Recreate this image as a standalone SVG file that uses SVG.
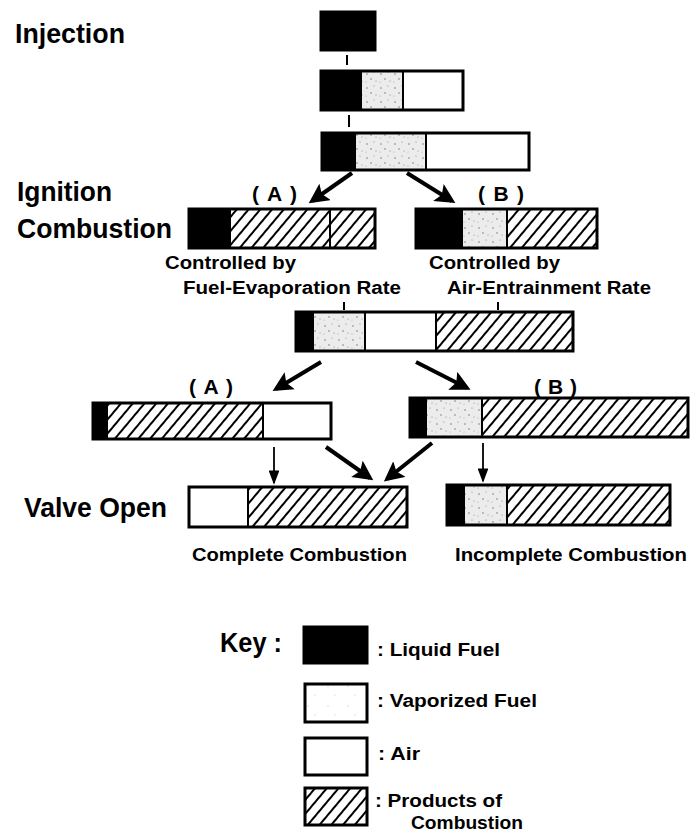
<svg xmlns="http://www.w3.org/2000/svg" width="691" height="834" viewBox="0 0 691 834">
<style>
text{font-family:"Liberation Sans",Arial,sans-serif;font-weight:bold;fill:#000}
.big{font-size:27px}
.lab{font-size:18px}
.par{font-size:21px}
.b{stroke:#000;stroke-width:3}
.liq{fill:#000}
.air{fill:#fff}
.vap{fill:url(#stip)}
.prod{fill:url(#hatch)}
.div{stroke:#000;stroke-width:2}
.thick{stroke:#000;stroke-width:4;fill:none}
.thin{stroke:#000;stroke-width:1.8;fill:none}
.tick{stroke:#000;stroke-width:2}
</style>
<defs>
<pattern id="hatch" patternUnits="userSpaceOnUse" width="9" height="9" patternTransform="rotate(40)">
<rect width="9" height="9" fill="#fff"/>
<line x1="1" y1="0" x2="1" y2="9" stroke="#000" stroke-width="2"/>
</pattern>
<pattern id="stip" patternUnits="userSpaceOnUse" width="14" height="14">
<rect width="14" height="14" fill="#ececec"/>
<circle cx="3" cy="4" r="0.7" fill="#666"/>
<circle cx="10" cy="2" r="0.6" fill="#888"/>
<circle cx="7" cy="9" r="0.7" fill="#666"/>
<circle cx="12" cy="11" r="0.6" fill="#888"/>
<circle cx="2" cy="12" r="0.5" fill="#999"/>
</pattern>
<pattern id="stipLight" patternUnits="userSpaceOnUse" width="20" height="20">
<rect width="20" height="20" fill="#fff"/>
<circle cx="8" cy="6" r="0.5" fill="#aaa"/>
<circle cx="15" cy="15" r="0.5" fill="#bbb"/>
</pattern>
<marker id="ahThick" markerWidth="5" markerHeight="5" refX="4" refY="2.5" orient="auto" markerUnits="strokeWidth">
<path d="M0,0 L5,2.5 L0,5 L1,2.5 Z" fill="#000"/>
</marker>
<marker id="ahThin" markerWidth="8" markerHeight="6" refX="7" refY="3" orient="auto" markerUnits="strokeWidth">
<path d="M0,0 L8,3 L0,6 Z" fill="#000"/>
</marker>
</defs>

<g id="labels">
<text class="big" x="15" y="43" textLength="110" lengthAdjust="spacingAndGlyphs">Injection</text>
<text class="big" x="17" y="201" textLength="95" lengthAdjust="spacingAndGlyphs">Ignition</text>
<text class="big" x="17" y="238" textLength="155" lengthAdjust="spacingAndGlyphs">Combustion</text>
<text class="big" x="24" y="517" textLength="143" lengthAdjust="spacingAndGlyphs">Valve Open</text>
</g>

<g id="connectors">
<line class="tick" x1="347" y1="55" x2="347" y2="65"/>
<line class="tick" x1="349" y1="115" x2="349" y2="127"/>
<line class="thick" x1="352" y1="173" x2="312" y2="201" marker-end="url(#ahThick)"/>
<line class="thick" x1="407" y1="173" x2="452" y2="201" marker-end="url(#ahThick)"/>
<line class="tick" x1="344" y1="302" x2="344" y2="310"/>
<line class="tick" x1="498" y1="302" x2="498" y2="310"/>
<line class="thick" x1="321" y1="362" x2="276" y2="389" marker-end="url(#ahThick)"/>
<line class="thick" x1="416" y1="362" x2="467" y2="388" marker-end="url(#ahThick)"/>
<line class="thin" x1="274" y1="447" x2="274" y2="483" marker-end="url(#ahThin)"/>
<line class="thick" x1="326" y1="447" x2="370" y2="478" marker-end="url(#ahThick)"/>
<line class="thick" x1="432" y1="443" x2="387" y2="479" marker-end="url(#ahThick)"/>
<line class="thin" x1="483" y1="443" x2="483" y2="481" marker-end="url(#ahThin)"/>
</g>

<g id="node-injection">
<rect class="liq b" x="321" y="12" width="54" height="38"/>
</g>

<g id="node-stage2">
<rect class="liq" x="321" y="71" width="41" height="39"/>
<rect class="vap" x="362" y="71" width="41" height="39"/>
<rect class="air" x="403" y="71" width="60" height="39"/>
<rect x="321" y="71" width="142" height="39" fill="none" class="b"/>
<line class="div" x1="403" y1="71" x2="403" y2="110"/>
</g>

<g id="node-stage3">
<rect class="liq" x="322" y="133" width="34" height="37"/>
<rect class="vap" x="356" y="133" width="70" height="37"/>
<rect class="air" x="426" y="133" width="103" height="37"/>
<rect x="322" y="133" width="207" height="37" fill="none" class="b"/>
<line class="div" x1="426" y1="133" x2="426" y2="170"/>
</g>

<g id="node-ignA">
<text class="par" x="252" y="201" textLength="45" lengthAdjust="spacing">( A )</text>
<rect class="liq" x="189" y="209" width="42" height="39"/>
<rect class="prod" x="231" y="209" width="144" height="39"/>
<rect x="189" y="209" width="186" height="39" fill="none" class="b"/>
<line class="div" x1="330" y1="209" x2="330" y2="248"/>
<text class="lab" x="165" y="269" textLength="131" lengthAdjust="spacingAndGlyphs">Controlled by</text>
<text class="lab" x="183" y="294" textLength="218" lengthAdjust="spacingAndGlyphs">Fuel-Evaporation Rate</text>
</g>

<g id="node-ignB">
<text class="par" x="478" y="201" textLength="46" lengthAdjust="spacing">( B )</text>
<rect class="liq" x="416" y="209" width="47" height="39"/>
<rect class="vap" x="463" y="209" width="44" height="39"/>
<rect class="prod" x="507" y="209" width="90" height="39"/>
<rect x="416" y="209" width="181" height="39" fill="none" class="b"/>
<line class="div" x1="507" y1="209" x2="507" y2="248"/>
<text class="lab" x="429" y="269" textLength="131" lengthAdjust="spacingAndGlyphs">Controlled by</text>
<text class="lab" x="447" y="294" textLength="204" lengthAdjust="spacingAndGlyphs">Air-Entrainment Rate</text>
</g>

<g id="node-mid">
<rect class="liq" x="296" y="312" width="18" height="39"/>
<rect class="vap" x="314" y="312" width="51" height="39"/>
<rect class="air" x="365" y="312" width="71" height="39"/>
<rect class="prod" x="436" y="312" width="137" height="39"/>
<rect x="296" y="312" width="277" height="39" fill="none" class="b"/>
<line class="div" x1="365" y1="312" x2="365" y2="351"/>
<line class="div" x1="436" y1="312" x2="436" y2="351"/>
</g>

<g id="node-A2">
<text class="par" x="189" y="394" textLength="44" lengthAdjust="spacing">( A )</text>
<rect class="liq" x="93" y="403" width="15" height="36"/>
<rect class="prod" x="108" y="403" width="155" height="36"/>
<rect class="air" x="263" y="403" width="68" height="36"/>
<rect x="93" y="403" width="238" height="36" fill="none" class="b"/>
<line class="div" x1="263" y1="403" x2="263" y2="439"/>
</g>

<g id="node-B2">
<text class="par" x="534" y="394" textLength="43" lengthAdjust="spacing">( B )</text>
<rect class="liq" x="410" y="398" width="17" height="39"/>
<rect class="vap" x="427" y="398" width="55" height="39"/>
<rect class="prod" x="482" y="398" width="206" height="39"/>
<rect x="410" y="398" width="278" height="39" fill="none" class="b"/>
<line class="div" x1="482" y1="398" x2="482" y2="437"/>
</g>

<g id="node-complete">
<rect class="air" x="189" y="487" width="59" height="40"/>
<rect class="prod" x="248" y="487" width="159" height="40"/>
<rect x="189" y="487" width="218" height="40" fill="none" class="b"/>
<line class="div" x1="248" y1="487" x2="248" y2="527"/>
<text class="lab" x="192" y="561" textLength="215" lengthAdjust="spacingAndGlyphs">Complete Combustion</text>
</g>

<g id="node-incomplete">
<rect class="liq" x="447" y="485" width="18" height="40"/>
<rect class="vap" x="465" y="485" width="42" height="40"/>
<rect class="prod" x="507" y="485" width="163" height="40"/>
<rect x="447" y="485" width="223" height="40" fill="none" class="b"/>
<line class="div" x1="507" y1="485" x2="507" y2="525"/>
<text class="lab" x="455" y="561" textLength="232" lengthAdjust="spacingAndGlyphs">Incomplete Combustion</text>
</g>

<g id="key">
<text class="big" x="220" y="652" textLength="62" lengthAdjust="spacingAndGlyphs">Key :</text>
<rect class="liq b" x="304" y="627" width="63" height="36"/>
<text class="lab" x="377" y="656" textLength="123" lengthAdjust="spacingAndGlyphs">: Liquid Fuel</text>
<rect x="305" y="684" width="62" height="38" fill="url(#stipLight)" class="b"/>
<text class="lab" x="377" y="707" textLength="160" lengthAdjust="spacingAndGlyphs">: Vaporized Fuel</text>
<rect class="air b" x="305" y="738" width="62" height="37"/>
<text class="lab" x="378" y="760" textLength="42" lengthAdjust="spacingAndGlyphs">: Air</text>
<rect class="prod b" x="305" y="788" width="62" height="37"/>
<text class="lab" x="375" y="807" textLength="127" lengthAdjust="spacingAndGlyphs">: Products of</text>
<text class="lab" x="411" y="829" textLength="112" lengthAdjust="spacingAndGlyphs">Combustion</text>
</g>
</svg>
